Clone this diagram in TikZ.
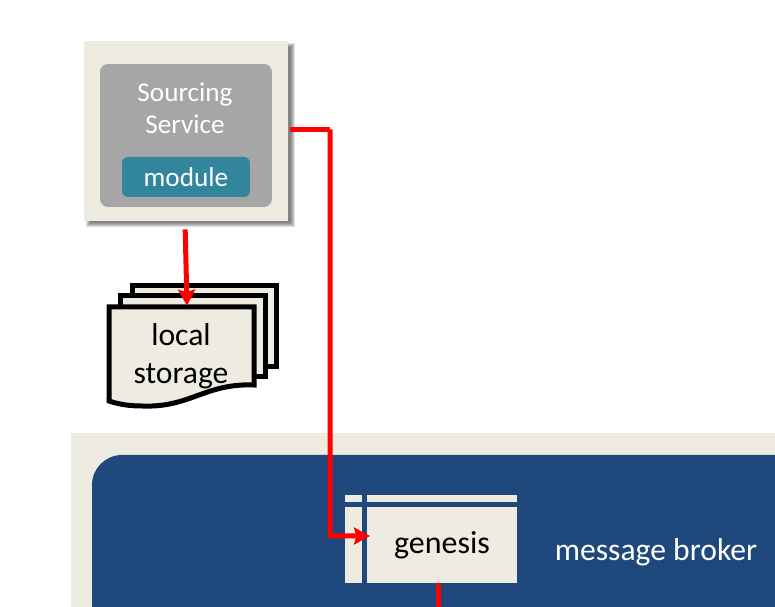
\documentclass[tikz,border=0pt]{standalone}
\usepackage{fontspec}
\setmainfont{Carlito}
\usetikzlibrary{arrows.meta}
\definecolor{sand}{HTML}{EEECE1}
\definecolor{brokerblue}{HTML}{1F497D}
\definecolor{modteal}{HTML}{31859C}
\definecolor{svcgrey}{HTML}{A6A6A6}
\tikzset{
  flow/.style={draw=red,line width=0.1cm,-{Stealth[length=0.32cm,width=0.34cm,inset=0.05cm]}},
  page/.style={draw=black,line width=0.1cm,fill=sand,miter limit=4},
  label/.style={inner sep=0pt,align=center,font=\fontsize{15.5}{18}\selectfont},
  sandbar/.style={fill=sand,draw=none}
}
\begin{document}
\begin{tikzpicture}
        [x=0.02cm,y=-0.02cm]
        \clip (0,0) rectangle (775,607);
        \fill[white] (0,0) rectangle (775,607);

        % broker panels
        \fill[sand] (71,433) rectangle (800,640);
        \fill[brokerblue,rounded corners=0.6cm] (92,455) rectangle (820,660);

        % soft shadow of the service box
        \foreach \i in {0,...,4}
        {\fill[black,opacity=0.12] (88+\i-2,45+\i-2) rectangle (293-\i+2,225-\i+2);}

        \node[fill=sand,minimum width=4.08cm,minimum height=3.6cm,inner sep=0pt] (src) at (186,131) {};
        \node[fill=svcgrey,rounded corners=0.16cm,minimum width=3.44cm,minimum height=2.86cm,inner sep=0pt] (svc) at (186,135.5) {};
        \node[label,text=white] (svcname) at (185,108.5) {Sourcing\\Service};
        \node[fill=modteal,rounded corners=0.12cm,minimum width=2.56cm,minimum height=0.8cm,inner sep=0pt,text=white,font=\fontsize{15.5}{18}\selectfont] (mod) at (186,177) {\raisebox{-1pt}{module}};

        % stacked pages
        \draw[page] (132.5,286) -- (276.5,286) -- (276.5,367) -- (200,367) -- (132.5,367) -- cycle;
        \draw[page] (120,296) -- (265,296) -- (265,377) -- (200,377) -- (120,377) -- cycle;
        \draw[page] (109,307) -- (254,307) -- (254,385)
          .. controls (205,383) and (190,408) .. (142,406)
          .. controls (128,406) and (118,404) .. (109,401) -- cycle;
        \node[label,font=\fontsize{18}{21.5}\selectfont,minimum width=2.96cm,minimum height=2cm] (store) at (181,356) {local\\storage};

        % genesis block
        \fill[sandbar] (345,495) rectangle (362,502);
        \fill[sandbar] (367,495) rectangle (517,502);
        \fill[sandbar] (345,507) rectangle (362,583);
        \node[fill=sand,minimum width=3cm,minimum height=1.52cm,inner sep=0pt,font=\fontsize{18.2}{20}\selectfont] (genesis) at (442,545) {\raisebox{-1pt}{genesis}};
        \node[inner sep=0pt,text=white,font=\fontsize{18}{20}\selectfont] (broker) at (656,552) {message broker};

        \coordinate (turn) at (330,129.5);
        \coordinate (hit) at (370,536);
        \coordinate (below) at (438.5,610);

        \draw[flow,-,shorten <=0.04cm] (src.east |- turn) -- (turn);
        \draw[flow,rounded corners=0.02cm] (turn) -- (turn |- hit) -- (hit);
        \draw[flow,shorten <=0.16cm] ([xshift=-0.02cm]src.south) -- ([xshift=0.02cm]src.south |- store.north);
        \draw[flow,-] (genesis.south -| below) -- (below);
      \end{tikzpicture}
\end{document}
